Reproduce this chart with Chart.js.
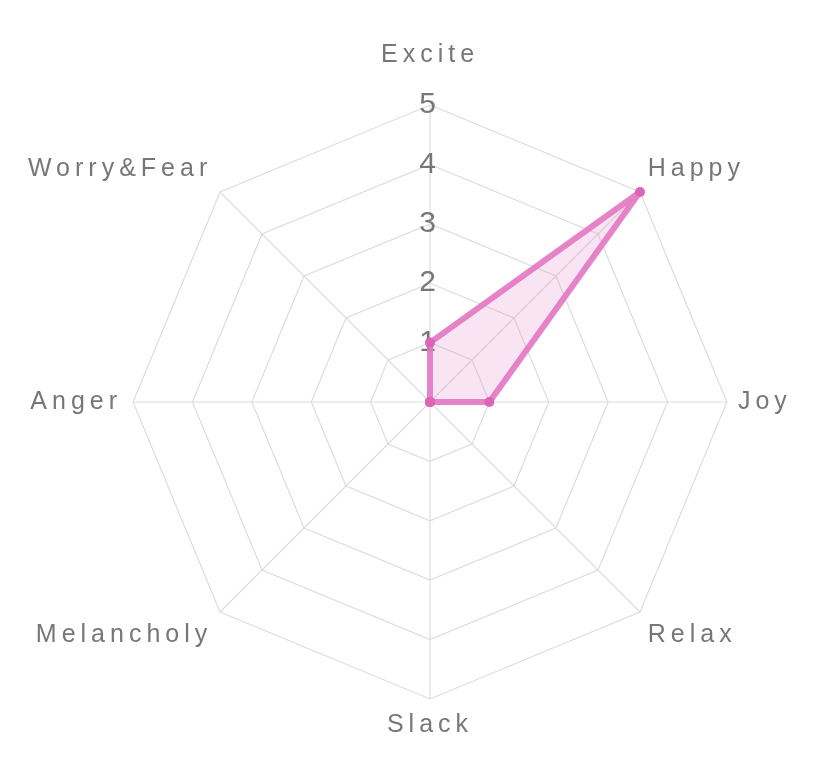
<!doctype html>
<html>
<head>
    <meta charset="utf-8">
    <title>Radar</title>
    <script src="https://cdn.jsdelivr.net/npm/chart.js@4.4.0/dist/chart.umd.min.js"></script>
    <style>
    body { margin: 0; background: #fff; }
    #holder { width: 822px; height: 780px; }
    </style>
</head>
<body>
    <div id="holder"><canvas id="radar"></canvas></div>
    <script>
        var emotions = ["Excite", "Happy", "Joy", "Relax", "Slack", "Melancholy", "Anger", "Worry&Fear"];
        var scores = [1, 5, 1, 0, 0, 0, 0, 0];
        var tickValues = [1, 2, 3, 4, 5];

        // letter spacing for the labels
        var spacing = {
            id: 'spacing',
            beforeLayout: function(chart) { chart.ctx.letterSpacing = '5px'; },
            beforeDraw: function(chart) { chart.ctx.letterSpacing = '5px'; },
            beforeDatasetsDraw: function(chart) { chart.ctx.letterSpacing = '0px'; }
        };

        var ctx = document.getElementById("radar").getContext("2d");
        new Chart(ctx, {
            type: 'radar',
            data: {
                labels: emotions,
                datasets: [{
                    data: scores,
                    borderColor: "rgba(227, 119, 194, 0.9)",
                    backgroundColor: "rgba(227, 119, 194, 0.2)",
                    borderWidth: 6,
                    borderJoinStyle: 'round',
                    pointRadius: 5,
                    pointBorderWidth: 0,
                    pointBackgroundColor: "rgb(220, 100, 185)"
                }]
            },
            options: {
                responsive: true,
                maintainAspectRatio: false,
                animation: false,
                layout: { padding: { top: -20, bottom: -28, left: -13, right: 7 } },
                plugins: { legend: { display: false }, tooltip: { enabled: false } },
                scales: {
                    r: {
                        min: 0,
                        max: 5,
                        afterBuildTicks: function(scale) {
                            scale.ticks = [{ value: 0 }].concat(tickValues.map(function(v) { return { value: v }; }));
                        },
                        angleLines: { color: "#dddddd", lineWidth: 1.2 },
                        grid: { color: "#dddddd", lineWidth: 1.2 },
                        ticks: {
                            showLabelBackdrop: false,
                            color: "#777777",
                            font: { family: "'Liberation Sans', Arial, sans-serif", size: 30 },
                            callback: function(v) { return v === 0 ? '' : v; }
                        },
                        pointLabels: {
                            color: "#777777",
                            padding: function(c) { return c.index === 0 ? 18 : -6; },
                            font: { family: "'Liberation Sans', Arial, sans-serif", size: 25 }
                        }
                    }
                }
            },
            plugins: [spacing]
        });
    </script>
</body>
</html>
